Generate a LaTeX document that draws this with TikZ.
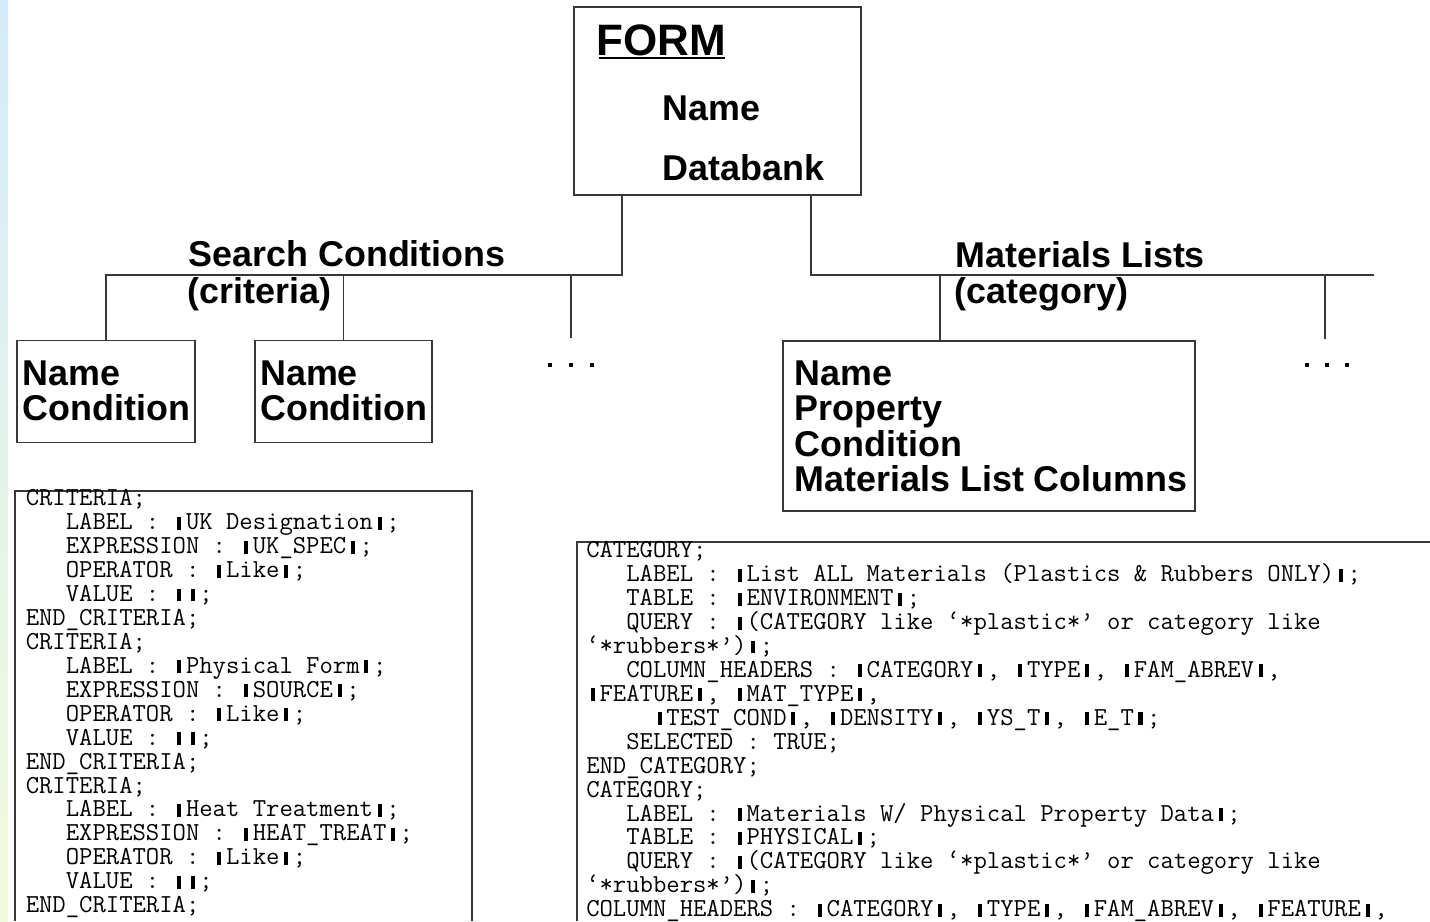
\documentclass[tikz,border=0pt]{standalone}
\usepackage{fontspec}
\setmainfont{Liberation Sans}
\newcommand\cw{\fontcharwd\font`M}
\newcommand\vb{\makebox[\cw][c]{\rule{0.16em}{0.5em}}}
\newcommand\ind[1]{\hspace*{#1\cw}}
\begin{document}
\begin{tikzpicture}[x=0.75pt,y=-0.75pt,
  ln/.style={line width=1.1pt, draw=black!78},
  bx/.style 2 args={draw=black!78, line width=1.1pt, inner sep=0pt, minimum width=#1*0.75pt, minimum height=#2*0.75pt},
  hd/.style={inner sep=0pt, anchor=base west, align=left, font=\bfseries\fontsize{26.9pt}{26.3pt}\selectfont},
  cd/.style={inner sep=0pt, anchor=base west, align=left, font=\ttfamily\fontsize{19.45pt}{17.955pt}\selectfont},
  dt/.style={fill=black, inner sep=0pt, minimum size=3.6pt}
]
\useasboundingbox (0,0) rectangle (1430,921);
\fill[white] (0,0) rectangle (1430,921);
\shade[top color={rgb,255:red,212;green,236;blue,249}, bottom color={rgb,255:red,243;green,249;blue,220}] (0,0) rectangle (8,921);

% FORM box
\node[bx={287}{188}] (form) at (717.5,101.2) {};
\node[hd, font=\bfseries\fontsize{33pt}{33pt}\selectfont] (ftitle) at (596,55) {FORM};
\draw[line width=1.5pt] ([xshift=2.2pt,yshift=-2.5pt]ftitle.base west) -- ([xshift=-0.5pt,yshift=-2.5pt]ftitle.base east);
\node[hd] (fname) at (662.4,120.7) {Name};
\node[hd] (fdb) at (662.4,180) {Databank};

% child boxes (multi-line nodes: base = last line)
\node[bx={178}{101.5}] (nc1) at (106,391.5) {};
\node[hd] (nc1t) at (22.4,420.5) {Name\\Condition};
\node[bx={177}{101.5}] (nc2) at (343.5,391.5) {};
\node[hd] (nc2t) at (260,420.5) {Name\\Condition};
\node[bx={412}{170}] (ml) at (989,426) {};
\node[hd, font=\bfseries\fontsize{26.9pt}{26.55pt}\selectfont] (mlt) at (794.5,491.7) {Name\\Property\\Condition\\Materials List Columns};

% branch labels
\node[hd] (sc) at (188.5,266.7) {Search Conditions};
\node[hd] (scc) at (187.5,303.3) {(criteria)};
\node[hd] (mls) at (955.5,267) {Materials Lists};
\node[hd] (mlc) at (954.5,303.3) {(category)};

% connectors
\coordinate (jl) at (622,275);
\coordinate (jr) at (811,275);
\coordinate (e1) at (571,338);
\coordinate (er) at (1374,275);
\coordinate (m1) at (940,275);
\coordinate (e2) at (1325,339);
\draw[ln] (form.south -| jl) -- (jl) -- (nc1.north |- jl) -- (nc1.north);
\draw[ln] (nc2.north |- jl) -- (nc2.north);
\draw[ln] (e1 |- jl) -- (e1);
\draw[ln] (form.south -| jr) -- (jr) -- (er);
\draw[ln] (m1) -- (ml.north -| m1);
\draw[ln] (e2 |- jr) -- (e2);

% ellipses
\node[dt] (d1) at (550,365) {};
\node[dt] (d2) at (571,365) {};
\node[dt] (d3) at (592,365) {};
\node[dt] (d4) at (1307,365) {};
\node[dt] (d5) at (1327,365) {};
\node[dt] (d6) at (1347,365) {};

% code boxes
\coordinate (lb1) at (15,921);
\coordinate (lb2) at (15,491);
\coordinate (lb3) at (472,491);
\coordinate (lb4) at (472,921);
\draw[ln] (lb1) -- (lb2) -- (lb3) -- (lb4);
\coordinate (rb1) at (577,921);
\coordinate (rb2) at (577,542);
\coordinate (rb3) at (1430,542);
\draw[ln] (rb1) -- (rb2) -- (rb3);

\node[cd] (crit) at (25.5,912.7) {CRITERIA;\\
\ind{3}LABEL : \vb UK Designation\vb;\\
\ind{3}EXPRESSION : \vb UK\_SPEC\vb;\\
\ind{3}OPERATOR : \vb Like\vb;\\
\ind{3}VALUE : \vb\vb;\\
END\_CRITERIA;\\
CRITERIA;\\
\ind{3}LABEL : \vb Physical Form\vb;\\
\ind{3}EXPRESSION : \vb SOURCE\vb;\\
\ind{3}OPERATOR : \vb Like\vb;\\
\ind{3}VALUE : \vb\vb;\\
END\_CRITERIA;\\
CRITERIA;\\
\ind{3}LABEL : \vb Heat Treatment\vb;\\
\ind{3}EXPRESSION : \vb HEAT\_TREAT\vb;\\
\ind{3}OPERATOR : \vb Like\vb;\\
\ind{3}VALUE : \vb\vb;\\
END\_CRITERIA;};

\node[cd] (cat) at (586,916.8) {CATEGORY;\\
\ind{3}LABEL : \vb List ALL Materials (Plastics \& Rubbers ONLY)\vb;\\
\ind{3}TABLE : \vb ENVIRONMENT\vb;\\
\ind{3}QUERY : \vb(CATEGORY like ‘*plastic*’ or category like\\
‘*rubbers*’)\vb;\\
\ind{3}COLUMN\_HEADERS : \vb CATEGORY\vb, \vb TYPE\vb, \vb FAM\_ABREV\vb,\\
\vb FEATURE\vb, \vb MAT\_TYPE\vb,\\
\ind{5}\vb TEST\_COND\vb, \vb DENSITY\vb, \vb YS\_T\vb, \vb E\_T\vb;\\
\ind{3}SELECTED : TRUE;\\
END\_CATEGORY;\\
CATEGORY;\\
\ind{3}LABEL : \vb Materials W/ Physical Property Data\vb;\\
\ind{3}TABLE : \vb PHYSICAL\vb;\\
\ind{3}QUERY : \vb(CATEGORY like ‘*plastic*’ or category like\\
‘*rubbers*’)\vb;\\
COLUMN\_HEADERS : \vb CATEGORY\vb, \vb TYPE\vb, \vb FAM\_ABREV\vb, \vb FEATURE\vb,};
\end{tikzpicture}
\end{document}
